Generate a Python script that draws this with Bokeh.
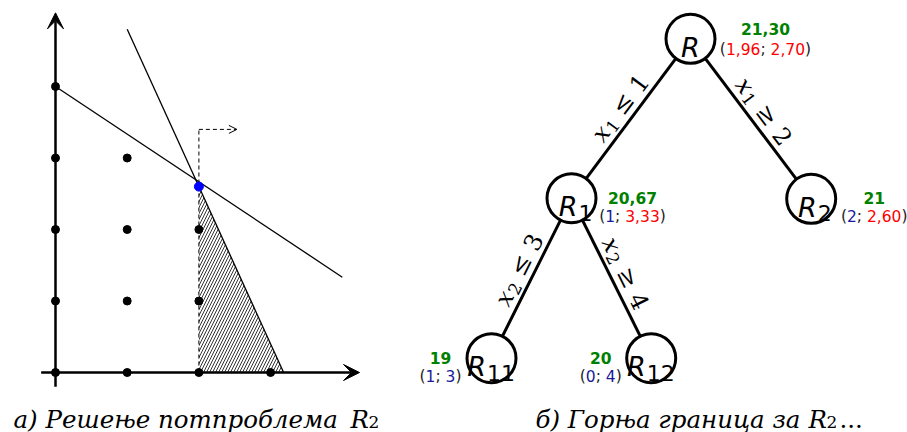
import math
from bokeh.plotting import figure
from bokeh.models import Range1d, Arrow, VeeHead, OpenHead
from bokeh.core.properties import value
from bokeh.embed import file_html
from bokeh.resources import INLINE

# ---------------- left panel: LP sub-problem R2 ----------------
lattice_x = [0, 0, 0, 0, 0, 1, 1, 1, 1, 2, 2, 2, 3]
lattice_y = [0, 1, 2, 3, 4, 0, 1, 2, 3, 0, 1, 2, 0]
opt_x = [2.0]
opt_y = [2.6]
# constraints a*x + b*y = c
con1 = [2, 3, 12]
con2 = [11, 5, 35]
con1_xs = [0, 4]          # drawn x-extent of constraint 1
con2_ys = [4.8, 0]        # drawn y-extent of constraint 2
branch_x = 2              # x1 >= 2
branch_top = 3.4
branch_arrow_x = 2.53
xaxis_ext = [-0.2, 4.24]
yaxis_ext = [-0.2, 5.03]

# ---------------- right panel: branch & bound tree ----------------
node_sub = ["", "1", "2", "11", "12"]
node_x = [690, 571, 810.7, 491, 650.7]
node_y = [38.3, 197.7, 198.3, 357.7, 357.7]
edge_from = [0, 0, 1, 1]
edge_to = [1, 2, 3, 4]
edge_var = ["x", "x", "x", "x"]
edge_var_sub = ["1", "1", "2", "2"]
edge_rel = ["≤", "≥", "≤", "≥"]
edge_rhs = ["1", "2", "3", "4"]
bound = ["21,30", "20,67", "21", "19", "20"]
sol_x = ["1,96", "1", "2", "1", "0"]
sol_y = ["2,70", "3,33", "2,60", "3", "4"]
sol_x_int = [False, True, True, True, True]
sol_y_int = [False, False, False, True, True]
# label placement relative to node centre
lab_dx = [75, 61, 63, -51, -50.5]
lab_dy1 = [-10, -0.5, -1, 0, 0]
lab_dy2 = [10, 17.5, 17, 18, 18]
sub_split = [0, 6, 5.5, -5.5, -5.5]

captions = ["а) Решење потпроблема", "б) Горња граница за"]
cap_x = [13, 535]
cap_R_x = [350, 808]
cap_sub_x = [368, 826]

GREEN = "#008000"
RED = "#ff0000"
NAVY = "#1a1a9a"

W_PX, H_PX = 907, 432
p = figure(width=W_PX, height=H_PX, x_range=Range1d(0, W_PX), y_range=Range1d(H_PX, 0),
           output_backend="svg", toolbar_location=None, min_border=0,
           x_axis_type=None, y_axis_type=None)
p.outline_line_color = None
p.background_fill_color = "white"
p.extra_x_ranges = {"dx": Range1d((0 - 55) / 71.7, (W_PX - 55) / 71.7)}
p.extra_y_ranges = {"dy": Range1d((372 - H_PX) / 71.5, (372 - 0) / 71.5)}
D = dict(x_range_name="dx", y_range_name="dy")

# hatched feasible region
a2, b2, c2 = con2
p.patch(x=[branch_x, branch_x, c2 / a2], y=[0, (c2 - a2 * branch_x) / b2, 0],
        fill_color=None, line_color=None, hatch_pattern="/", hatch_color="black",
        hatch_weight=0.8, hatch_scale=6, **D)

# constraint lines
a1, b1, c1 = con1
p.line(x=con1_xs, y=[(c1 - a1 * x) / b1 for x in con1_xs], line_color="black", line_width=1.3, **D)
p.line(x=[(c2 - b2 * y) / a2 for y in con2_ys], y=con2_ys, line_color="black", line_width=1.3, **D)

# branching dashed line & arrow
p.line(x=[branch_x, branch_x], y=[0, branch_top], line_color="black", line_width=1, line_dash="4 3", **D)
p.add_layout(Arrow(end=OpenHead(size=8, line_width=1, line_color="black"),
                   x_start=branch_x, y_start=branch_top, x_end=branch_arrow_x, y_end=branch_top,
                   line_width=1, line_dash="4 3", line_color="black", **D))

# axes
p.add_layout(Arrow(end=VeeHead(size=16, fill_color="black", line_color="black"),
                   x_start=xaxis_ext[0], y_start=0, x_end=xaxis_ext[1], y_end=0,
                   line_width=2.5, line_color="black", **D))
p.add_layout(Arrow(end=VeeHead(size=16, fill_color="black", line_color="black"),
                   x_start=0, y_start=yaxis_ext[0], x_end=0, y_end=yaxis_ext[1],
                   line_width=2.5, line_color="black", **D))

# lattice points and optimum
p.scatter(x=lattice_x, y=lattice_y, size=8, color="black", **D)
p.scatter(x=opt_x, y=opt_y, size=9, color="#0000ff", **D)

# ---------------- tree ----------------
p.segment(x0=[node_x[i] for i in edge_from], y0=[node_y[i] for i in edge_from],
          x1=[node_x[i] for i in edge_to], y1=[node_y[i] for i in edge_to],
          line_color="black", line_width=3)
p.scatter(x=node_x, y=node_y, size=49, marker="circle", fill_color="white",
          line_color="black", line_width=3)

# node names
for cx, cy, sub, sp in zip(node_x, node_y, node_sub, sub_split):
    if sub:
        p.text(x=[cx + sp], y=[cy + 8.5], text=["R"], text_align="right", text_baseline="alphabetic",
               text_font=value("DejaVu Sans"), text_font_style="italic", text_font_size="27px")
        p.text(x=[cx + sp + 1], y=[cy + 14.5], text=[sub], text_align="left", text_baseline="alphabetic",
               text_font=value("DejaVu Sans"), text_font_size="22px")
    else:
        p.text(x=[cx], y=[cy + 8.5], text=["R"], text_align="center", text_baseline="alphabetic",
               text_font=value("DejaVu Sans"), text_font_style="italic", text_font_size="27px")

# edge labels (built from pieces along the rotated baseline)
EF = 24.0   # main size
ES = 17.0   # subscript size
for f, t, var, vs, rel, rhs in zip(edge_from, edge_to, edge_var, edge_var_sub, edge_rel, edge_rhs):
    dx = node_x[t] - node_x[f]
    dy = node_y[t] - node_y[f]
    vx, vy = (dx, dy) if dx > 0 else (-dx, -dy)
    ang = math.atan2(-vy, vx)
    ux, uy = math.cos(ang), -math.sin(ang)          # text direction (screen)
    nx, ny = -math.sin(ang), -math.cos(ang)         # text "up" (screen)
    mx = (node_x[f] + node_x[t]) / 2
    my = (node_y[f] + node_y[t]) / 2
    pieces = [(var, EF, "italic", 0.60 * EF, 0),
              (vs, ES, "normal", 0.636 * ES + 0.35 * EF, 5.0),
              (rel, EF, "normal", 0.838 * EF + 0.35 * EF, 0),
              (rhs, EF, "normal", 0.636 * EF, 0)]
    total = sum(pc[3] for pc in pieces)
    mid_off = 15.0
    along = 2.0
    sx = mx - ux * (total / 2 - along) + nx * mid_off
    sy = my - uy * (total / 2 - along) + ny * mid_off
    acc = 0.0
    for txt, fs, style, adv, shift in pieces:
        px = sx + ux * acc - nx * shift
        py = sy + uy * acc - ny * shift
        p.text(x=[px], y=[py], text=[txt], angle=ang, text_align="left", text_baseline="middle",
               text_font=value("DejaVu Serif"), text_font_style=style, text_font_size=f"{fs}px")
        acc += adv

# bound labels
FS = 15.5
W = {"(": 0.3901, ")": 0.3901, ",": 0.3179, ";": 0.3369, " ": 0.3179}


def tw(s):
    return FS * sum(W.get(ch, 0.6362) for ch in s)


for i in range(len(node_x)):
    cx = node_x[i] + lab_dx[i]
    p.text(x=[cx], y=[node_y[i] + lab_dy1[i]], text=[bound[i]], text_align="center",
           text_baseline="middle", text_color=GREEN, text_font=value("DejaVu Sans"),
           text_font_style="bold", text_font_size=f"{FS}px")
    segs = [("(", "#222222"), (sol_x[i], NAVY if sol_x_int[i] else RED), ("; ", "#222222"),
            (sol_y[i], NAVY if sol_y_int[i] else RED), (")", "#222222")]
    total = sum(tw(s) for s, _ in segs)
    x0 = cx - total / 2
    for s, col in segs:
        p.text(x=[x0], y=[node_y[i] + lab_dy2[i]], text=[s], text_align="left",
               text_baseline="middle", text_color=col, text_font=value("DejaVu Sans"),
               text_font_size=f"{FS}px")
        x0 += tw(s)

# captions
for cap, x, rx, sx in zip(captions, cap_x, cap_R_x, cap_sub_x):
    p.text(x=[x], y=[418.5], text=[cap], text_align="left", text_baseline="alphabetic",
           text_font=value("DejaVu Serif"), text_font_style="italic", text_font_size="24.5px")
    p.text(x=[rx], y=[418.5], text=["R"], text_align="left", text_baseline="alphabetic",
           text_font=value("DejaVu Serif"), text_font_style="italic", text_font_size="24.5px")
    p.text(x=[sx], y=[421.5], text=["2"], text_align="left", text_baseline="alphabetic",
           text_font=value("DejaVu Serif"), text_font_size="17px")
p.text(x=[839], y=[418.5], text=["..."], text_align="left", text_baseline="alphabetic",
       text_font=value("DejaVu Serif"), text_font_size="24.5px")

open("out.html", "w").write(file_html(p, INLINE))
